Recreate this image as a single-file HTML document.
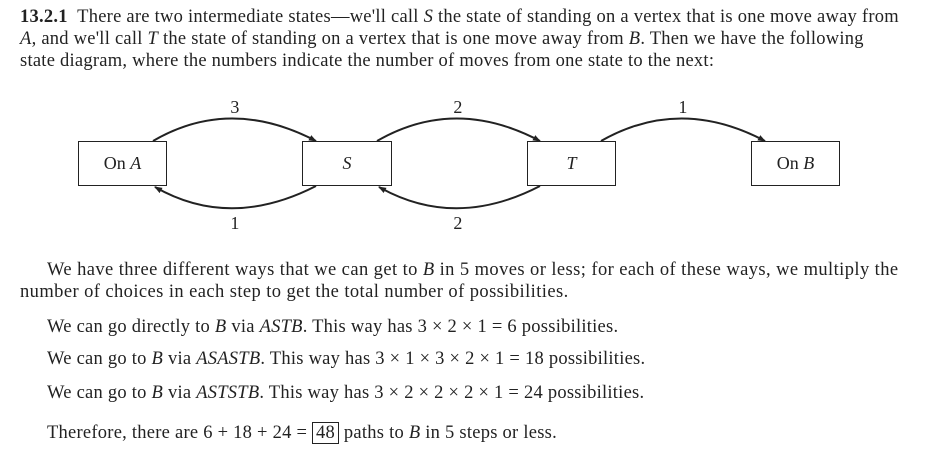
<!DOCTYPE html>
<html><head><style>
body{margin:0;width:929px;height:453px;background:#fff;position:relative;font-family:"Liberation Serif",serif;font-size:18.5px;letter-spacing:0.25px;color:#222;overflow:hidden}
.l{position:absolute;white-space:nowrap;line-height:22px}
.box{position:absolute;border:1.6px solid #222;box-sizing:border-box;height:45px;top:141px;text-align:center;line-height:42px;font-size:18px;letter-spacing:0}
i{font-style:italic}
</style></head><body>
<div class="l" style="left:20px;top:6px"><b>13.2.1</b>&nbsp; There are two intermediate states—we'll call <i>S</i> the state of standing on a vertex that is one move away from</div>
<div class="l" style="left:20px;top:28px"><i>A</i>, and we'll call <i>T</i> the state of standing on a vertex that is one move away from <i>B</i>. Then we have the following</div>
<div class="l" style="left:20px;top:50px">state diagram, where the numbers indicate the number of moves from one state to the next:</div>

<svg style="position:absolute;left:0;top:0" width="929" height="453">
<defs><marker id="a" markerWidth="8" markerHeight="8" refX="7" refY="4" orient="auto" markerUnits="userSpaceOnUse"><path d="M0,1 L8,4 L0,7 z" fill="#222"/></marker></defs>
<g fill="none" stroke="#222" stroke-width="2">
<path d="M153,141 Q230,96 316,141" marker-end="url(#a)"/>
<path d="M316,186 Q230,230 155,187" marker-end="url(#a)"/>
<path d="M377,141 Q455,96 540,141" marker-end="url(#a)"/>
<path d="M540,186 Q455,230 379,187" marker-end="url(#a)"/>
<path d="M601,141 Q680,96 765,141" marker-end="url(#a)"/>
</g>
<g font-family="Liberation Serif,serif" font-size="18" fill="#222" text-anchor="middle">
<text x="235" y="113">3</text><text x="458" y="113">2</text><text x="683" y="113">1</text>
<text x="235" y="229">1</text><text x="458" y="229">2</text>
</g>
</svg>
<div class="box" style="left:78px;width:89px">On <i>A</i></div>
<div class="box" style="left:302px;width:90px"><i>S</i></div>
<div class="box" style="left:527px;width:89px"><i>T</i></div>
<div class="box" style="left:751px;width:89px">On <i>B</i></div>

<div class="l" style="left:47px;top:259px;letter-spacing:0.42px">We have three different ways that we can get to <i>B</i> in 5 moves or less; for each of these ways, we multiply the</div>
<div class="l" style="left:20px;top:281px;letter-spacing:0.42px">number of choices in each step to get the total number of possibilities.</div>
<div class="l" style="left:47px;top:316px">We can go directly to <i>B</i> via <i>ASTB</i>. This way has 3 × 2 × 1 = 6 possibilities.</div>
<div class="l" style="left:47px;top:348px">We can go to <i>B</i> via <i>ASASTB</i>. This way has 3 × 1 × 3 × 2 × 1 = 18 possibilities.</div>
<div class="l" style="left:47px;top:382px">We can go to <i>B</i> via <i>ASTSTB</i>. This way has 3 × 2 × 2 × 2 × 1 = 24 possibilities.</div>
<div class="l" style="left:47px;top:422px">Therefore, there are 6 + 18 + 24 = <span style="border:1.3px solid #222;padding:0 3px">48</span> paths to <i>B</i> in 5 steps or less.</div>
</body></html>
